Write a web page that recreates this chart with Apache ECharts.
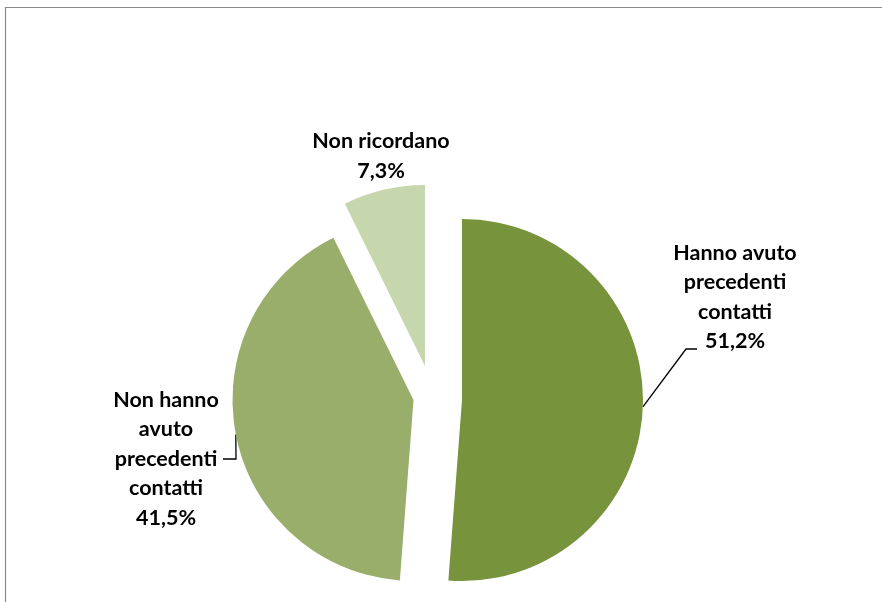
<!DOCTYPE html>
<html>
<head>
<meta charset="utf-8">
<script src="https://cdn.jsdelivr.net/npm/echarts@6/dist/echarts.min.js"></script>
<style>
  html, body { margin: 0; padding: 0; background: #ffffff; }
  #chart { width: 882px; height: 602px; }
</style>
</head>
<body>
<div id="chart"></div>
<script>
// Slice names and their shares (%)
const categories = [
  'Hanno avuto\nprecedenti\ncontatti',
  'Non hanno\navuto\nprecedenti\ncontatti',
  'Non ricordano'
];
const values = [51.2, 41.5, 7.3];
const colors = ['#77933C', '#9AAE6B', '#C6D6AD'];

// Each slice is pulled out of the pie: apex (pie centre) of every slice
const apexes = [[462, 400], [413.5, 400], [425, 366]];
const pieRadius = 181;

// Label block centres and leader-line bends
const labelPos = [[735, 297], [166, 459], [381, 156]];
const leaderBends = [
  [[686, 349], [697, 349]],
  [[236, 459], [223, 459]],
  null
];

const fmt = v => v.toFixed(1).replace('.', ',') + '%';

const series = categories.map((_, k) => ({
  type: 'pie',
  center: apexes[k],
  radius: [0, pieRadius],
  startAngle: 90,
  clockwise: true,
  avoidLabelOverlap: false,
  silent: true,
  animation: false,
  data: categories.map((name, i) => ({
    name: name,
    value: values[i],
    itemStyle: { color: i === k ? colors[i] : 'rgba(0,0,0,0)', borderWidth: 0 },
    label: {
      show: i === k,
      position: 'outside',
      formatter: p => p.name + '\n' + fmt(p.value),
      color: '#000000',
      fontFamily: 'Lato',
      fontWeight: 'bold',
      fontSize: 21.5,
      lineHeight: 29.5,
      align: 'center'
    },
    labelLine: {
      show: i === k && leaderBends[i] !== null,
      lineStyle: { color: '#000000', width: 1.3 }
    }
  })),
  labelLayout: params => {
    const i = params.dataIndex;
    if (i !== k) return {};
    const out = {
      x: labelPos[i][0],
      y: labelPos[i][1],
      align: 'center',
      verticalAlign: 'middle'
    };
    if (leaderBends[i] && params.labelLinePoints) {
      const p0 = params.labelLinePoints[0];
      out.labelLinePoints = [p0, leaderBends[i][0], leaderBends[i][1]];
    }
    return out;
  }
}));

const chart = echarts.init(document.getElementById('chart'), null, { renderer: 'canvas' });
chart.setOption({
  backgroundColor: '#ffffff',
  animation: false,
  graphic: [{
    type: 'rect',
    shape: { x: 5.5, y: 7.5, width: 1000, height: 800 },
    style: { fill: 'none', stroke: '#8a8a8a', lineWidth: 1.2 },
    silent: true
  }],
  series: series
});
</script>
</body>
</html>
